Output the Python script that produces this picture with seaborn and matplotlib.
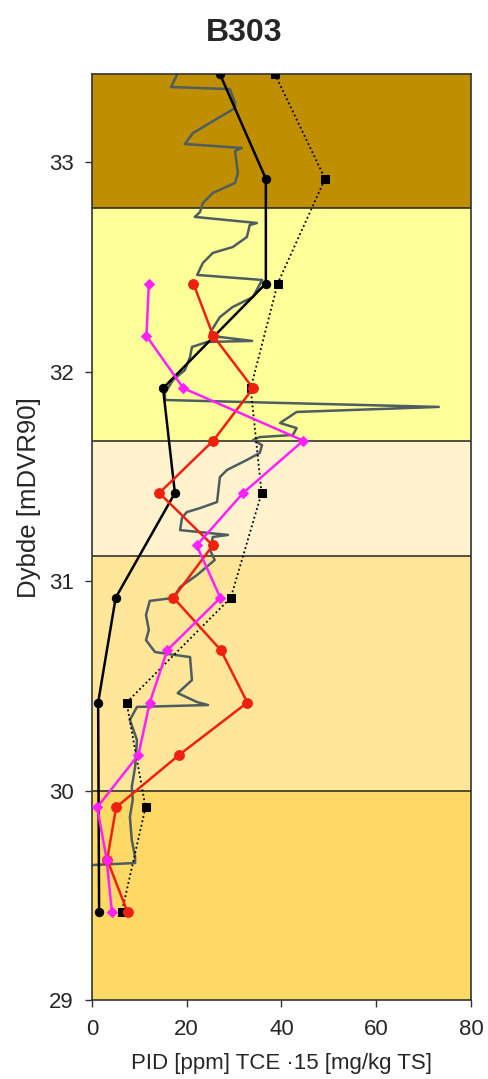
import matplotlib
matplotlib.use("Agg")
import matplotlib.pyplot as plt
import pandas as pd
import seaborn as sns

# soil layers (depth boundaries from top to bottom) and their colours
layer_bounds = [33.42, 32.78, 31.67, 31.12, 30.0, 29.0]
layer_colors = ["#BF8F00", "#FFFF99", "#FFF2CC", "#FFE699", "#FFD966"]

# TCE sample depths
depth_half = [33.42, 32.92, 32.42, 31.92, 31.42, 30.92, 30.42, 29.42]
depth_sq = [33.42, 32.92, 32.42, 31.92, 31.42, 30.92, 30.42, 29.92, 29.42]
depth_q = [32.42, 32.17, 31.92, 31.67, 31.42, 31.17, 30.92, 30.67, 30.42,
           30.17, 29.92, 29.67, 29.42]

black_vals = [27.0, 36.7, 36.7, 15.0, 17.5, 5.0, 1.3, 1.5]
dotted_vals = [38.6, 49.2, 39.2, 33.5, 35.8, 29.3, 7.3, 11.3, 6.3]
red_vals = [21.4, 25.6, 34.0, 25.6, 14.2, 25.5, 17.2, 27.2, 32.8, 18.4, 5.1, 3.2, 7.5]
magenta_vals = [12.0, 11.5, 19.3, 44.6, 31.9, 22.1, 27.1, 15.9, 12.2, 9.8, 1.1, 3.1, 4.2]

# continuous PID profile
pid_depth = [33.415, 33.358, 33.348, 33.282, 33.258, 33.138, 33.086, 33.067, 33.053,
             32.947, 32.900, 32.852, 32.804, 32.761, 32.738, 32.709, 32.699, 32.642,
             32.594, 32.566, 32.518, 32.461, 32.437, 32.356, 32.308, 32.260, 32.184,
             32.169, 32.146, 32.141, 32.117, 32.069, 32.007, 31.959, 31.897, 31.864,
             31.831, 31.807, 31.754, 31.730, 31.697, 31.687, 31.673, 31.649, 31.611,
             31.578, 31.530, 31.496, 31.377, 31.348, 31.329, 31.301, 31.243, 31.220,
             31.210, 31.148, 31.100, 31.029, 30.971, 30.919, 30.905, 30.838, 30.766,
             30.718, 30.661, 30.647, 30.637, 30.527, 30.465, 30.422, 30.408, 30.399,
             30.337, 30.241, 30.112, 30.017, 29.955, 29.874, 29.764, 29.683, 29.654,
             29.644]
pid_vals = [17.9, 16.7, 29.1, 30.2, 30.2, 21.3, 19.6, 31.6, 30.2,
            30.8, 30.2, 25.5, 23.4, 22.8, 21.7, 34.8, 33.3, 32.7,
            29.7, 25.5, 23.4, 22.2, 35.9, 34.0, 29.7, 27.0, 24.9,
            25.5, 33.8, 24.3, 21.1, 20.7, 19.6, 17.1, 15.4, 15.4,
            73.2, 43.2, 39.7, 43.2, 42.4, 35.4, 34.0, 35.9, 35.4,
            32.7, 28.5, 27.0, 26.4, 22.8, 20.0, 19.0, 18.6, 28.7,
            25.5, 24.9, 25.9, 22.2, 18.6, 17.1, 12.2, 11.4, 12.0,
            11.4, 13.3, 17.5, 20.7, 21.1, 18.1, 22.2, 24.5, 9.5,
            8.0, 9.5, 9.1, 8.4, 8.6, 8.0, 8.4, 9.1, 9.1,
            0.0]

sns.set_style("ticks")
plt.rcParams["font.family"] = ["Liberation Sans", "DejaVu Sans"]

fig = plt.figure(figsize=(4.88, 10.79), dpi=100)
ax = fig.add_axes([0.1885, 0.0732, 0.7766, 0.8582])

for i, col in enumerate(layer_colors):
    ax.axhspan(layer_bounds[i + 1], layer_bounds[i], color=col, lw=0, zorder=0)
for b in layer_bounds[1:-1]:
    ax.axhline(b, color="#222222", lw=1.1, zorder=1)

sns.lineplot(x=pid_vals, y=pid_depth, sort=False, estimator=None, ax=ax,
             color="#4D5D60", lw=1.8, zorder=2)
sns.lineplot(x=dotted_vals, y=depth_sq, sort=False, estimator=None, ax=ax,
             color="black", lw=1.3, ls=(0, (1, 1.5)), marker="s", ms=6,
             mec="black", zorder=3)
sns.lineplot(x=black_vals, y=depth_half, sort=False, estimator=None, ax=ax,
             color="black", lw=1.8, marker="o", ms=6, mec="black", zorder=4)
sns.lineplot(x=red_vals, y=depth_q, sort=False, estimator=None, ax=ax,
             color="#F02010", lw=1.8, marker="o", ms=7, mec="#F02010", zorder=5)
sns.lineplot(x=magenta_vals, y=depth_q, sort=False, estimator=None, ax=ax,
             color="#FF20FF", lw=1.8, marker="D", ms=5, mec="#FF20FF", zorder=6)

ax.set_xlim(0, 80)
ax.set_ylim(29, 33.42)
ax.set_xticks([0, 20, 40, 60, 80])
ax.set_yticks([29, 30, 31, 32, 33])
ax.tick_params(labelsize=16, length=5, width=1, color="#333333")
ax.tick_params(axis="x", pad=9)
ax.tick_params(axis="y", pad=8)
for sp in ax.spines.values():
    sp.set_visible(True)
    sp.set_color("#333333")
    sp.set_linewidth(1.2)

ax.set_xlabel("PID [ppm] TCE \u00b715 [mg/kg TS]", fontsize=16, labelpad=9)
ax.set_ylabel("Dybde [mDVR90]", fontsize=18.5)
ax.yaxis.set_label_coords(-0.135, 0.543)
fig.suptitle("B303", fontsize=23, fontweight="bold", y=0.983)

fig.savefig("out.png", dpi=100)
